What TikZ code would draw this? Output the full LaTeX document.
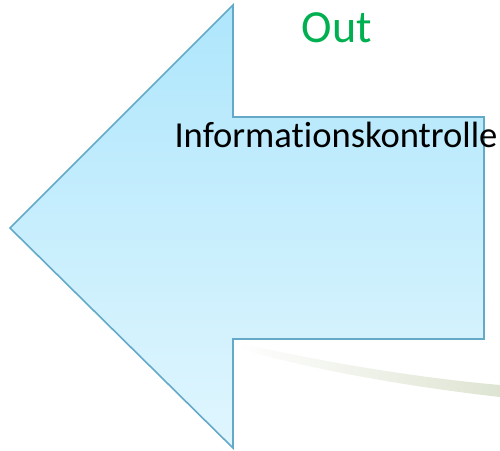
\documentclass[tikz,border=0pt]{standalone}
\usepackage{fontspec}
\setmainfont[Ligatures=NoCommon]{Carlito}
\definecolor{arrowtop}{RGB}{174,230,252}
\definecolor{arrowbot}{RGB}{224,246,254}
\definecolor{arrowline}{RGB}{100,170,200}
\definecolor{swoosh}{RGB}{222,228,210}
\definecolor{outgreen}{RGB}{0,176,80}
\tikzset{
  bigarrow/.style={draw=arrowline, line width=1.6pt, line join=miter, top color=arrowtop, bottom color=arrowbot},
  swooshband/.style={left color=white, right color=swoosh, draw=none},
  outlabel/.style={text=outgreen, font=\fontsize{46}{50}\selectfont, anchor=base, inner sep=0pt},
  infolabel/.style={text=black, font=\fontsize{36.6}{40}\selectfont, anchor=base, inner sep=0pt}
}
\begin{document}
\begin{tikzpicture}[x=1pt,y=-1pt]
\useasboundingbox (0,0) rectangle (500,450);
% swoosh shadow behind the arrow
\shade[swooshband] (236,342) .. controls (320,362) and (420,378) .. (500,385)
  -- (500,397) .. controls (420,388) and (320,372) .. (236,348) -- cycle;
% big left arrow
\path[bigarrow] (10,228) coordinate (tip) -- (233,5) coordinate (headtop) -- (233,117) -- (484,117)
  -- (484,339) -- (233,339) -- (233,448) coordinate (headbot) -- cycle;
\node[outlabel] (out) at (337,42) {Out};
\node[infolabel] (info) at (336,147) {Informationskontrolle};
\end{tikzpicture}
\end{document}
